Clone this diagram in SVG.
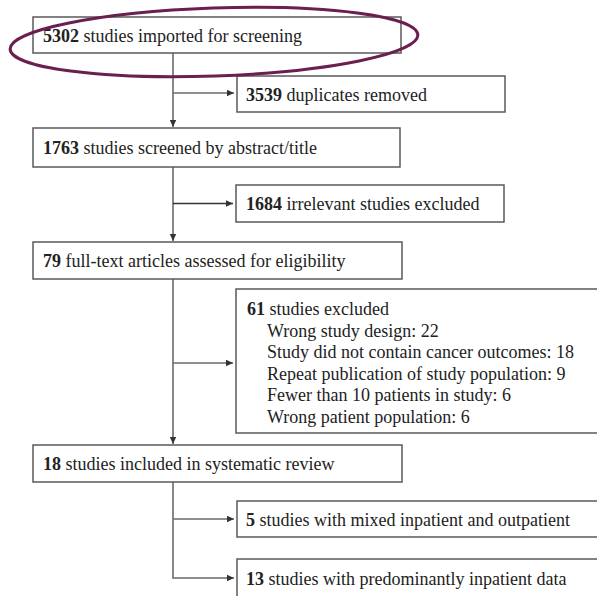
<svg xmlns="http://www.w3.org/2000/svg" width="597" height="596" viewBox="0 0 597 596">
<style>
.box{fill:#fff;stroke:#5a5a5a;stroke-width:1.5}
.t{font-family:"Liberation Serif","Times New Roman",serif;font-size:18px;fill:#222}
.b{font-weight:bold}
.c{fill:none;stroke:#6a6a6a;stroke-width:1.6}
</style>
<defs>
<marker id="ah" markerWidth="8" markerHeight="8" refX="7" refY="4" orient="auto" markerUnits="userSpaceOnUse">
<path d="M0,0.8 L7,4 L0,7.2 Z" fill="#333"/>
</marker>
</defs>
<rect width="597" height="596" fill="#fff"/>
<g id="connectors">
<line class="c" x1="173" y1="53" x2="173" y2="127" marker-end="url(#ah)"/>
<line class="c" x1="173" y1="93" x2="234" y2="93" marker-end="url(#ah)"/>
<line class="c" x1="173" y1="167" x2="173" y2="241" marker-end="url(#ah)"/>
<line class="c" x1="173" y1="203.5" x2="233" y2="203.5" style="stroke:#333" marker-end="url(#ah)"/>
<line class="c" x1="173" y1="279" x2="173" y2="444" marker-end="url(#ah)"/>
<line class="c" x1="173" y1="363" x2="233" y2="363" marker-end="url(#ah)"/>
<polyline class="c" points="173,482 173,578 234,578" marker-end="url(#ah)"/>
<line class="c" x1="173" y1="519" x2="234" y2="519" marker-end="url(#ah)"/>
</g>
<g id="n1">
<rect class="box" x="33" y="17" width="368" height="36"/>
<text class="t" x="43" y="42"><tspan class="b">5302</tspan> studies imported for screening</text>
</g>
<g id="n2">
<rect class="box" x="237" y="76" width="268" height="36"/>
<text class="t" x="246" y="101"><tspan class="b">3539</tspan> duplicates removed</text>
</g>
<g id="n3">
<rect class="box" x="33" y="128" width="367" height="39"/>
<text class="t" x="43" y="154"><tspan class="b">1763</tspan> studies screened by abstract/title</text>
</g>
<g id="n4">
<rect class="box" x="236" y="185" width="268" height="37"/>
<text class="t" x="246" y="210"><tspan class="b">1684</tspan> irrelevant studies excluded</text>
</g>
<g id="n5">
<rect class="box" x="33" y="242" width="369" height="37"/>
<text class="t" x="43" y="267"><tspan class="b">79</tspan> full-text articles assessed for eligibility</text>
</g>
<g id="n6">
<rect class="box" x="236" y="289" width="370" height="144"/>
<text class="t" x="247" y="315"><tspan class="b">61</tspan> studies excluded</text>
<text class="t" x="267" y="336.5">Wrong study design: 22</text>
<text class="t" x="267" y="358">Study did not contain cancer outcomes: 18</text>
<text class="t" x="267" y="379.5">Repeat publication of study population: 9</text>
<text class="t" x="267" y="401">Fewer than 10 patients in study: 6</text>
<text class="t" x="267" y="422.5">Wrong patient population: 6</text>
</g>
<g id="n7">
<rect class="box" x="33" y="445" width="369" height="37"/>
<text class="t" x="43" y="470"><tspan class="b">18</tspan> studies included in systematic review</text>
</g>
<g id="n8">
<rect class="box" x="237" y="501" width="370" height="36"/>
<text class="t" x="246" y="526"><tspan class="b">5</tspan> studies with mixed inpatient and outpatient</text>
</g>
<g id="n9">
<rect class="box" x="237" y="559" width="370" height="50"/>
<text class="t" x="246" y="585"><tspan class="b">13</tspan> studies with predominantly inpatient data</text>
</g>
<g id="highlight">
<ellipse cx="214" cy="42" rx="204" ry="34" transform="rotate(-2 214 42)" fill="none" stroke="#6b1f4e" stroke-width="3"/>
</g>
</svg>
